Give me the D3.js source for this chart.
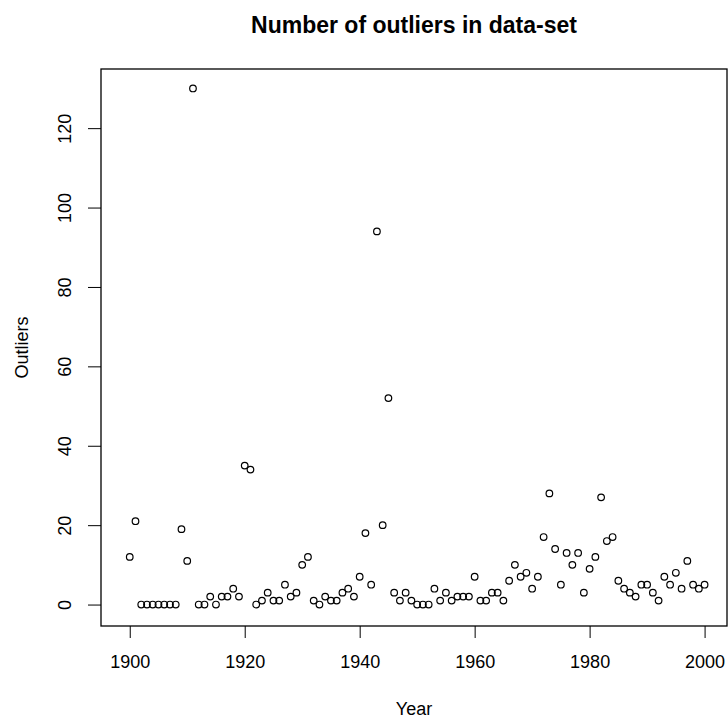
<!DOCTYPE html>
<html>
<head>
<meta charset="utf-8">
<script src="https://cdn.jsdelivr.net/npm/d3@7"></script>
<style>
  body { margin: 0; background: #fff; }
  text { font-family: "Liberation Sans", Arial, sans-serif; fill: #000; }
</style>
</head>
<body>
<script>
let w = 728;
let h = 722;

// one value per year, 1900..2000
let years = d3.range(1900, 2001);
let outliers = [
  12, 21, 0, 0, 0, 0, 0, 0, 0, 19,      // 1900-1909
  11, 130, 0, 0, 2, 0, 2, 2, 4, 2,      // 1910-1919
  35, 34, 0, 1, 3, 1, 1, 5, 2, 3,       // 1920-1929
  10, 12, 1, 0, 2, 1, 1, 3, 4, 2,       // 1930-1939
  7, 18, 5, 94, 20, 52, 3, 1, 3, 1,     // 1940-1949
  0, 0, 0, 4, 1, 3, 1, 2, 2, 2,         // 1950-1959
  7, 1, 1, 3, 3, 1, 6, 10, 7, 8,        // 1960-1969
  4, 7, 17, 28, 14, 5, 13, 10, 13, 3,   // 1970-1979
  9, 12, 27, 16, 17, 6, 4, 3, 2, 5,     // 1980-1989
  5, 3, 1, 7, 5, 8, 4, 11, 5, 4,        // 1990-1999
  5                                     // 2000
];
let xTicks = [1900, 1920, 1940, 1960, 1980, 2000];
let yTicks = [0, 20, 40, 60, 80, 100, 120];

let box = {left: 101, right: 727, top: 69, bottom: 626};

let x = d3.scaleLinear().domain([1895, 2003.9]).range([box.left, box.right]);
let y = d3.scaleLinear().domain([-5.4, 134.9]).range([box.bottom, box.top]);

let svg = d3.select("body")
    .append("svg")
    .attr("width", w)
    .attr("height", h);

// axes, R style: ticks outside, no domain path
let xAxis = svg.append("g")
    .attr("transform", `translate(0,${box.bottom})`)
    .call(d3.axisBottom(x).tickValues(xTicks).tickSize(12).tickFormat(d3.format("d")));
xAxis.select(".domain").remove();
xAxis.selectAll("line").attr("stroke", "#000");
xAxis.selectAll("text")
    .attr("y", 42).attr("dy", null)
    .style("font-size", "18px")
    .attr("font-family", null);

let yAxis = svg.append("g")
    .attr("transform", `translate(${box.left},0)`)
    .call(d3.axisLeft(y).tickValues(yTicks).tickSize(13).tickFormat(d3.format("d")));
yAxis.select(".domain").remove();
yAxis.selectAll("line").attr("stroke", "#000");
yAxis.selectAll("text")
    .attr("x", null).attr("dy", null)
    .attr("text-anchor", "middle")
    .attr("transform", "translate(-36,0) rotate(-90)")
    .attr("dy", "0.35em")
    .style("font-size", "18px")
    .attr("font-family", null);

// plot frame
svg.append("rect")
    .attr("x", box.left)
    .attr("y", box.top)
    .attr("width", box.right - box.left)
    .attr("height", box.bottom - box.top)
    .attr("fill", "none")
    .attr("stroke", "#000")
    .attr("stroke-width", 1.3);

svg.selectAll("circle")
    .data(years)
    .enter()
    .append("circle")
    .attr("cx", (d) => x(d))
    .attr("cy", (d, i) => y(outliers[i]))
    .attr("r", 3.3)
    .attr("fill", "none")
    .attr("stroke", "#000")
    .attr("stroke-width", 1.2);

// titles
svg.append("text")
    .attr("x", (box.left + box.right) / 2)
    .attr("y", 33)
    .attr("text-anchor", "middle")
    .style("font-size", "23px")
    .style("font-weight", "bold")
    .text("Number of outliers in data-set");

svg.append("text")
    .attr("x", (box.left + box.right) / 2)
    .attr("y", 715)
    .attr("text-anchor", "middle")
    .style("font-size", "18px")
    .text("Year");

svg.append("text")
    .attr("transform", `translate(28,${(box.top + box.bottom) / 2}) rotate(-90)`)
    .attr("text-anchor", "middle")
    .style("font-size", "18px")
    .text("Outliers");
</script>
</body>
</html>
